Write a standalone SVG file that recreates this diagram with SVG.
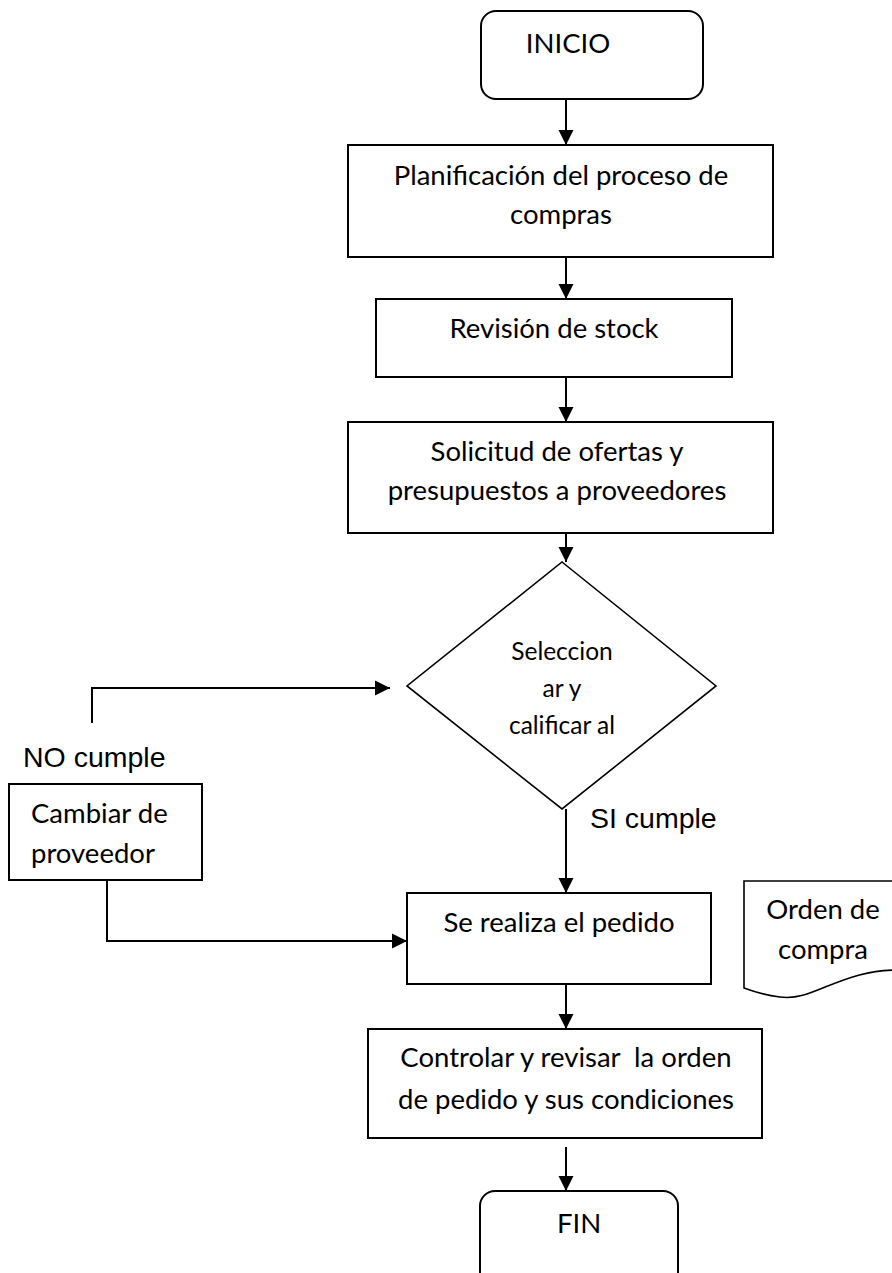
<svg xmlns="http://www.w3.org/2000/svg" width="892" height="1273" viewBox="0 0 892 1273">
  <style>
    .shape { fill: #ffffff; stroke: #000000; stroke-width: 2; }
    .thin { fill: #ffffff; stroke: #000000; stroke-width: 1.6; }
    .lbl { font-family: Lato, "Open Sans", sans-serif; font-size: 27.5px; fill: #000000; text-anchor: middle; }
    .small { font-size: 24.5px; }
    .left { text-anchor: start; }
    .cond { font-family: "Liberation Sans", Arial, sans-serif; font-size: 28.5px; fill: #000000; }
    .wire { fill: none; stroke: #000000; stroke-width: 2; marker-end: url(#head); }
  </style>
  <defs>
    <marker id="head" markerUnits="userSpaceOnUse" markerWidth="16" markerHeight="16" viewBox="0 0 16 16" refX="15" refY="8" orient="auto">
      <path d="M0,0.5 L15,8 L0,15.5 Z" fill="#000000"/>
    </marker>
  </defs>

  <rect width="892" height="1273" fill="#ffffff"/>

  <!-- connectors -->
  <g id="connectors">
    <path class="wire" d="M566,99 V145"/>
    <path class="wire" d="M566,257 V299"/>
    <path class="wire" d="M566,377 V422"/>
    <path class="wire" d="M566,533 V562"/>
    <path class="wire" d="M92,723 V688 H390"/>
    <path class="wire" d="M566,809 V893"/>
    <path class="wire" d="M107,880 V941 H407"/>
    <path class="wire" d="M566,984 V1029"/>
    <path class="wire" d="M566,1147 V1191"/>
  </g>

  <!-- start terminal -->
  <g id="inicio">
    <rect class="shape" x="481" y="11" width="222" height="88" rx="15" ry="15"/>
    <text class="lbl" x="568" y="53">INICIO</text>
  </g>

  <g id="planificacion">
    <rect class="shape" x="348" y="145" width="425" height="112"/>
    <text class="lbl" x="561" y="185">Planificación del proceso de</text>
    <text class="lbl" x="561" y="224">compras</text>
  </g>

  <g id="revision">
    <rect class="shape" x="376" y="299" width="356" height="78"/>
    <text class="lbl" x="554" y="338">Revisión de stock</text>
  </g>

  <g id="solicitud">
    <rect class="shape" x="348" y="422" width="425" height="111"/>
    <text class="lbl" x="557" y="461">Solicitud de ofertas y</text>
    <text class="lbl" x="557" y="500">presupuestos a proveedores</text>
  </g>

  <!-- decision -->
  <g id="seleccionar">
    <polygon class="thin" points="562,562 716,686 562,809 407,686"/>
    <text class="lbl small" x="562" y="660">Seleccion</text>
    <text class="lbl small" x="562" y="697">ar y</text>
    <text class="lbl small" x="562" y="734">calificar al</text>
  </g>

  <g id="labels">
    <text class="cond" x="23" y="767">NO cumple</text>
    <text class="cond" x="590" y="828">SI cumple</text>
  </g>

  <g id="cambiar">
    <rect class="shape" x="9" y="784" width="193" height="96"/>
    <text class="lbl left" x="31" y="823">Cambiar de</text>
    <text class="lbl left" x="31" y="863">proveedor</text>
  </g>

  <g id="pedido">
    <rect class="shape" x="407" y="893" width="304" height="91"/>
    <text class="lbl" x="559" y="932">Se realiza el pedido</text>
  </g>

  <!-- document symbol, runs past the right edge -->
  <g id="orden">
    <path class="thin" d="M744,881 H905 V970 C840,968 815,1002 780,997 C765,995 752,991 744,988 Z"/>
    <text class="lbl" x="823" y="919">Orden de</text>
    <text class="lbl" x="823" y="959">compra</text>
  </g>

  <g id="controlar">
    <rect class="shape" x="368" y="1029" width="394" height="109"/>
    <text class="lbl" x="566" y="1067" xml:space="preserve">Controlar y revisar  la orden</text>
    <text class="lbl" x="566" y="1109">de pedido y sus condiciones</text>
  </g>

  <!-- end terminal -->
  <g id="fin">
    <rect class="shape" x="480" y="1191" width="198" height="100" rx="15" ry="15"/>
    <text class="lbl" x="579" y="1233">FIN</text>
  </g>
</svg>
